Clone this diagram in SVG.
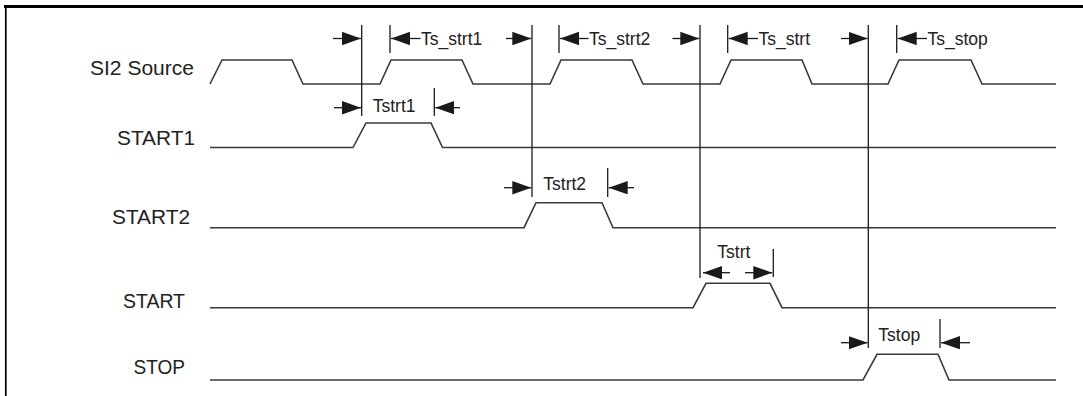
<svg xmlns="http://www.w3.org/2000/svg" width="1083" height="396" viewBox="0 0 1083 396">
<defs>
<marker id="ah" markerUnits="userSpaceOnUse" markerWidth="20" markerHeight="14" refX="19" refY="6.7" orient="auto">
<path d="M0,0 L19,6.7 L0,13.4 Z" fill="#1a1a1a"/>
</marker>
</defs>
<style>
.lbl{font-family:"Liberation Sans",Arial,sans-serif;font-size:20px;fill:#222}
.ann{font-family:"Liberation Sans",Arial,sans-serif;font-size:17.5px;fill:#222}
.wave{fill:none;stroke:#3a3a3a;stroke-width:1.6}
.vl{stroke:#1a1a1a;stroke-width:1.3}
.arr{stroke:#1a1a1a;stroke-width:1.3;marker-end:url(#ah)}
.frame{stroke:#000;fill:none}
</style>
<rect width="1083" height="396" fill="#fff"/>
<g id="frame">
<line class="frame" x1="4" y1="6.5" x2="1083" y2="6.5" stroke-width="3"/>
<line class="frame" x1="5.8" y1="5" x2="5.8" y2="396" stroke-width="1.7"/>
</g>
<g id="si2-source">
<text class="lbl" x="90" y="75" textLength="104" lengthAdjust="spacingAndGlyphs">SI2 Source</text>
<path class="wave" d="M210,84 L222,60 L292,60 L303,84 L380,84 L391,60 L462,60 L473,84 L550,84 L561,60 L632,60 L643,84 L720,84 L731,60 L802,60 L812,84 L888,84 L899,60 L971,60 L982,84 L1056,84"/>
</g>
<g id="start1">
<text class="lbl" x="117" y="145" textLength="78" lengthAdjust="spacingAndGlyphs">START1</text>
<path class="wave" d="M210,147.5 L353,147.5 L366,123 L431,123 L442.5,147.5 L1056,147.5"/>
</g>
<g id="start2">
<text class="lbl" x="112" y="224" textLength="78" lengthAdjust="spacingAndGlyphs">START2</text>
<path class="wave" d="M210,227.7 L524,227.7 L536,202.7 L602,202.7 L613,227.7 L1056,227.7"/>
</g>
<g id="start">
<text class="lbl" x="123" y="307.7" textLength="62" lengthAdjust="spacingAndGlyphs">START</text>
<path class="wave" d="M210,307.7 L693,307.7 L706,283.3 L770,283.3 L782,307.7 L1056,307.7"/>
</g>
<g id="stop">
<text class="lbl" x="133.5" y="374.3" textLength="51.5" lengthAdjust="spacingAndGlyphs">STOP</text>
<path class="wave" d="M210,380 L863,380 L877,354.3 L938,354.3 L949,380 L1056,380"/>
</g>
<g id="connectors">
<line class="vl" x1="361.7" y1="25" x2="361.7" y2="116"/>
<line class="vl" x1="390" y1="25" x2="390" y2="53"/>
<line class="vl" x1="532" y1="25" x2="532" y2="197"/>
<line class="vl" x1="559" y1="25" x2="559" y2="53"/>
<line class="vl" x1="700" y1="25" x2="700" y2="278"/>
<line class="vl" x1="727.7" y1="25" x2="727.7" y2="53"/>
<line class="vl" x1="868.3" y1="25" x2="868.3" y2="348"/>
<line class="vl" x1="896.7" y1="25" x2="896.7" y2="53"/>
<line class="vl" x1="434.3" y1="88" x2="434.3" y2="116"/>
<line class="vl" x1="607.7" y1="168" x2="607.7" y2="197"/>
<line class="vl" x1="773.3" y1="249" x2="773.3" y2="277"/>
<line class="vl" x1="940" y1="319" x2="940" y2="348"/>
<line class="arr" x1="333" y1="38.5" x2="361" y2="38.5"/>
<line class="arr" x1="420.5" y1="38.5" x2="391" y2="38.5"/>
<line class="arr" x1="506" y1="38.5" x2="531.3" y2="38.5"/>
<line class="arr" x1="588.5" y1="38.5" x2="560" y2="38.5"/>
<line class="arr" x1="672.5" y1="38.5" x2="699.3" y2="38.5"/>
<line class="arr" x1="758" y1="38.5" x2="728.7" y2="38.5"/>
<line class="arr" x1="841" y1="38.5" x2="867.6" y2="38.5"/>
<line class="arr" x1="927" y1="38.5" x2="897.7" y2="38.5"/>
<line class="arr" x1="334" y1="107.7" x2="361" y2="107.7"/>
<line class="arr" x1="460" y1="107.7" x2="435.3" y2="107.7"/>
<line class="arr" x1="504" y1="187.7" x2="531.3" y2="187.7"/>
<line class="arr" x1="634" y1="187.7" x2="608.7" y2="187.7"/>
<line class="arr" x1="730" y1="272.7" x2="703" y2="272.7"/>
<line class="arr" x1="745" y1="272.7" x2="772.3" y2="272.7"/>
<line class="arr" x1="841" y1="342.7" x2="867.6" y2="342.7"/>
<line class="arr" x1="970" y1="342.7" x2="941" y2="342.7"/>
<text class="ann" x="421" y="45">Ts_strt1</text>
<text class="ann" x="589" y="45">Ts_strt2</text>
<text class="ann" x="758.5" y="45">Ts_strt</text>
<text class="ann" x="927.5" y="45">Ts_stop</text>
<text class="ann" x="372.7" y="112.3">Tstrt1</text>
<text class="ann" x="543.3" y="190">Tstrt2</text>
<text class="ann" x="717.3" y="257.7">Tstrt</text>
<text class="ann" x="878.3" y="341">Tstop</text>
</g>
</svg>
